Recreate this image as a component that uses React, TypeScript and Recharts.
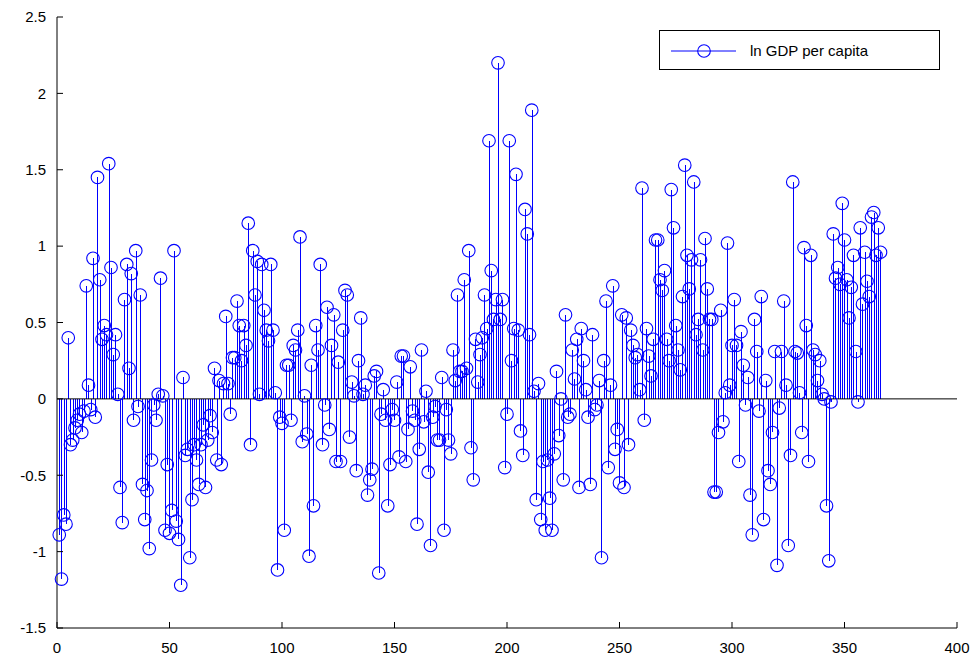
import React from "react";
import { ComposedChart, Scatter, Bar, XAxis, YAxis, ReferenceLine, Legend } from "recharts";

const lnGdp: number[] = [
  -0.89, -1.18, -0.76, -0.82, 0.40, -0.30, -0.27, -0.19, -0.14, -0.10,
  -0.22, -0.08, 0.74, 0.09, -0.07, 0.92, -0.12, 1.45, 0.78, 0.39,
  0.48, 0.42, 1.54, 0.86, 0.29, 0.42, 0.03, -0.58, -0.81, 0.65,
  0.88, 0.20, 0.82, -0.14, 0.97, -0.05, 0.68, -0.56, -0.79, -0.60,
  -0.98, -0.40, -0.04, -0.14, 0.03, 0.79, 0.02, -0.86, -0.43, -0.88,
  -0.73, 0.97, -0.80, -0.92, -1.22, 0.14, -0.37, -0.33, -1.04, -0.66,
  -0.30, -0.40, -0.56, -0.30, -0.17, -0.58, -0.27, -0.11, -0.22, 0.20,
  -0.40, 0.12, -0.43, 0.10, 0.54, 0.10, -0.10, 0.27, 0.27, 0.64,
  0.48, 0.25, 0.48, 0.35, 1.15, -0.30, 0.97, 0.68, 0.90, 0.03,
  0.88, 0.58, 0.45, 0.38, 0.88, 0.45, 0.04, -1.12, -0.12, -0.16,
  -0.86, 0.22, 0.22, -0.14, 0.35, 0.32, 0.45, 1.06, -0.28, 0.02,
  -0.23, -1.03, 0.22, -0.70, 0.48, 0.32, 0.88, -0.30, -0.04, 0.60,
  -0.20, 0.35, 0.55, -0.41, 0.24, -0.41, 0.45, 0.71, 0.68, -0.25,
  0.11, 0.02, -0.47, 0.25, 0.53, 0.03, 0.09, -0.63, -0.53, -0.46,
  0.15, 0.18, -1.14, -0.10, 0.06, -0.14, -0.70, -0.43, -0.07, -0.14,
  0.11, -0.38, 0.28, 0.28, -0.41, -0.20, 0.21, -0.08, -0.14, -0.82,
  -0.33, 0.32, -0.15, 0.05, -0.48, -0.96, -0.12, -0.05, -0.27, -0.27,
  0.14, -0.86, -0.07, -0.27, -0.36, 0.32, 0.12, 0.68, 0.18, 0.18,
  0.78, 0.20, 0.97, -0.32, -0.53, 0.39, 0.11, 0.29, 0.40, 0.68,
  0.46, 1.69, 0.84, 0.52, 0.65, 2.20, 0.52, 0.65, -0.45, -0.10,
  1.69, 0.25, 0.46, 1.47, 0.45, -0.21, -0.37, 1.24, 1.08, 0.42,
  1.89, 0.05, -0.66, 0.10, -0.79, -0.41, -0.86, -0.40, -0.65, -0.86,
  -0.36, 0.18, -0.24, 0.00, -0.53, 0.55, -0.12, -0.10, 0.32, 0.13,
  0.39, -0.58, 0.46, 0.25, 0.06, -0.12, -0.56, 0.42, -0.07, -0.04,
  0.12, -1.04, 0.25, 0.64, -0.45, 0.09, 0.74, -0.33, -0.20, -0.55,
  0.55, -0.58, 0.53, -0.30, 0.45, 0.35, 0.27, 0.29, 0.06, 1.38,
  -0.14, 0.46, 0.28, 0.15, 0.39, 1.04, 1.04, 0.78, 0.71, 0.84,
  0.39, 0.25, 1.37, 1.12, 0.48, 0.32, 0.19, 0.67, 1.53, 0.94,
  0.72, 0.91, 1.42, 0.42, 0.52, 0.91, 0.32, 1.05, 0.72, 0.52,
  0.52, -0.61, -0.61, -0.22, 0.58, -0.15, 0.04, 1.02, 0.09, 0.35,
  0.65, 0.35, -0.41, 0.44, 0.22, -0.04, 0.14, -0.63, -0.89, 0.52,
  0.31, -0.08, 0.67, -0.79, 0.12, -0.47, -0.56, -0.22, 0.31, -1.09,
  -0.06, 0.31, 0.64, 0.09, -0.96, -0.37, 1.42, 0.31, 0.30, 0.04,
  -0.22, 0.99, 0.48, -0.41, 0.94, 0.32, 0.29, 0.12, 0.25, 0.03,
  0.00, -0.70, -1.06, -0.02, 1.08, 0.79, 0.86, 0.75, 1.28, 1.04,
  0.78, 0.53, 0.73, 0.94, 0.31, -0.02, 1.12, 0.62, 0.96, 0.77,
  0.67, 1.19, 1.22, 0.94, 1.12, 0.96,
];

const xTicks = [0, 50, 100, 150, 200, 250, 300, 350, 400];
const yTicks = [-1.5, -1, -0.5, 0, 0.5, 1, 1.5, 2, 2.5];
const seriesName = "ln GDP per capita";

const BLUE = "#0000ff";
const FONT = "'Liberation Sans', Arial, sans-serif";

const data = lnGdp.map((v, k) => ({ t: k + 1, v }));

const Marker = (props: any) => (
  <circle cx={props.cx} cy={props.cy} r={6.3} fill="none" stroke={BLUE} strokeWidth={1.1} />
);

const LegendBox = () => (
  <div style={{ width: 281, height: 40, border: "1px solid #000", background: "#fff", boxSizing: "border-box" }}>
    <svg width={279} height={38}>
      <line x1={11} x2={76} y1={20} y2={20} stroke={BLUE} strokeWidth={1} />
      <circle cx={44} cy={20} r={6.3} fill="none" stroke={BLUE} strokeWidth={1.1} />
      <text x={90} y={25} fontSize={15} fontFamily={FONT} fill="#000">{seriesName}</text>
    </svg>
  </div>
);

export default function App() {
  const tickStyle = { fill: "#000", fontSize: 15, fontFamily: FONT };
  return (
    <div style={{ position: "absolute", left: 0, top: 0, width: 980, height: 661, background: "#fff" }}>
      <ComposedChart width={980} height={661} data={data} margin={{ top: 17, right: 23, bottom: 3, left: 7 }}>
        <XAxis dataKey="t" type="number" domain={[0, 400]} ticks={xTicks} height={30}
          axisLine={{ stroke: "#000" }} tickLine={{ stroke: "#000" }} tickSize={-6} tickMargin={20}
          tick={tickStyle} interval={0} />
        <XAxis xAxisId="top" orientation="top" dataKey="t" type="number" domain={[0, 400]} ticks={xTicks} height={0}
          axisLine={{ stroke: "#000" }} tickLine={{ stroke: "#000" }} tickSize={-6} tick={false} />
        <YAxis type="number" domain={[-1.5, 2.5]} ticks={yTicks} width={50}
          axisLine={{ stroke: "#000" }} tickLine={{ stroke: "#000" }} tickSize={-6} tickMargin={17}
          tick={tickStyle} interval={0} />
        <YAxis yAxisId="right" orientation="right" type="number" domain={[-1.5, 2.5]} ticks={yTicks} width={0}
          axisLine={{ stroke: "#000" }} tickLine={{ stroke: "#000" }} tickSize={-6} tick={false} />
        <Legend layout="horizontal" verticalAlign="middle" align="center" content={LegendBox}
          wrapperStyle={{ left: 659, top: 30, width: 281 }} />
        {/* stems */}
        <Bar dataKey="v" barSize={1} fill={BLUE} shapeRendering="crispEdges" isAnimationActive={false} legendType="none" />
        <ReferenceLine y={0} stroke="#000" strokeWidth={1} />
        <Scatter name={seriesName} dataKey="v" fill="none" stroke={BLUE} shape={Marker} isAnimationActive={false} />
      </ComposedChart>
    </div>
  );
}
